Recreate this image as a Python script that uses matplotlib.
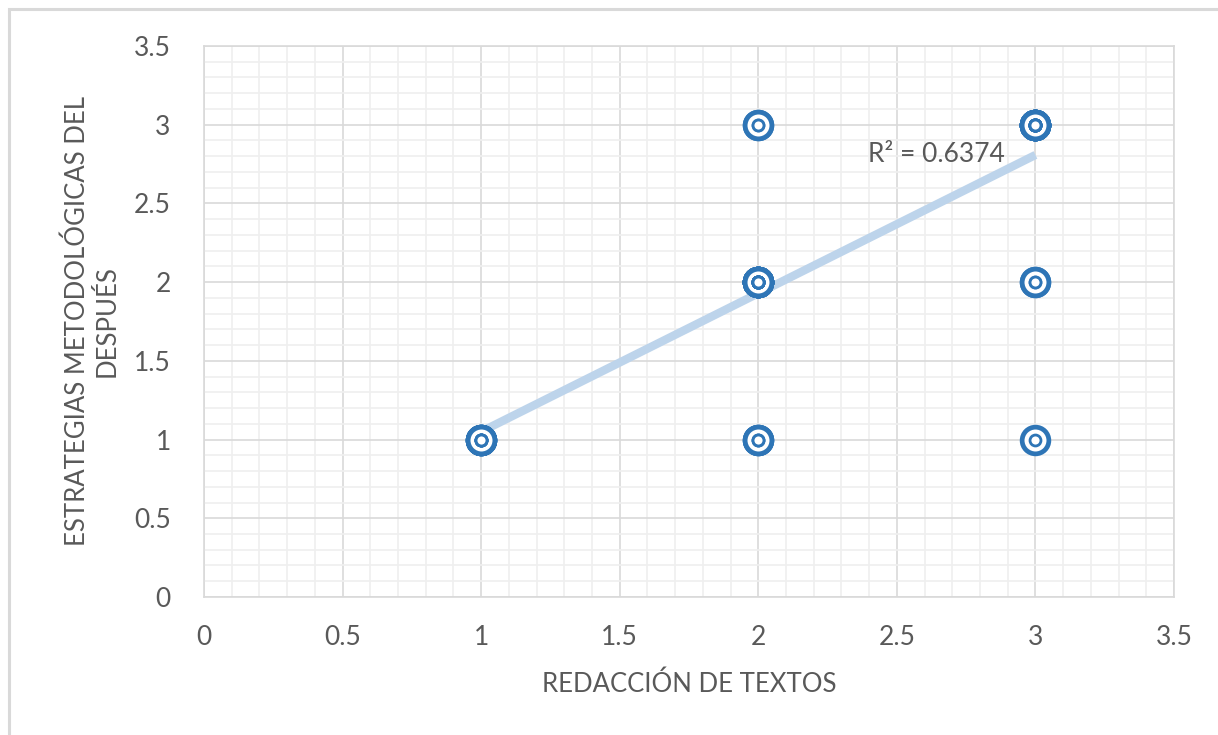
import matplotlib
matplotlib.use("Agg")
import matplotlib.pyplot as plt
import matplotlib.ticker as ticker
from matplotlib.patches import Rectangle
import numpy as np

# -- Data: distinct (x, y) pairs and how many respondents fall on each ----------
x_vals = [1, 2, 2, 2, 3, 3, 3]
y_vals = [1, 1, 2, 3, 1, 2, 3]
counts = [7, 3, 19, 2, 1, 2, 16]

x_label = "REDACCIÓN DE TEXTOS"
y_label = "ESTRATEGIAS METODOLÓGICAS DEL\nDESPUÉS"
ticks = [0, 0.5, 1, 1.5, 2, 2.5, 3, 3.5]

BLUE = "#2e75b6"
TREND = "#bdd4eb"
TEXT = "#595959"

plt.rcParams["font.family"] = ["Lato", "DejaVu Sans"]

xs = np.repeat(x_vals, counts).astype(float)
ys = np.repeat(y_vals, counts).astype(float)
slope, intercept = np.polyfit(xs, ys, 1)
r2 = np.corrcoef(xs, ys)[0, 1] ** 2

fig = plt.figure(figsize=(12.18, 7.35), dpi=100)
ax = fig.add_axes([0.1675, 0.1878, 0.7964, 0.7496])

# outer chart frame (Excel chart area border)
fig.patches.append(Rectangle((9 / 1218, -0.05), 1.2, 1 - 9 / 735 + 0.05,
                             transform=fig.transFigure, fill=False,
                             edgecolor="#d9d9d9", linewidth=2.2))

ax.set_xlim(0, 3.5)
ax.set_ylim(0, 3.5)
ax.xaxis.set_major_locator(ticker.FixedLocator(ticks))
ax.yaxis.set_major_locator(ticker.FixedLocator(ticks))
ax.xaxis.set_minor_locator(ticker.MultipleLocator(0.1))
ax.yaxis.set_minor_locator(ticker.MultipleLocator(0.1))
ax.xaxis.set_major_formatter(ticker.FuncFormatter(lambda v, _: f"{v:g}"))
ax.yaxis.set_major_formatter(ticker.FuncFormatter(lambda v, _: f"{v:g}"))
ax.grid(which="minor", color="#efefef", linewidth=1.2)
ax.grid(which="major", color="#d9d9d9", linewidth=1.2)
ax.set_axisbelow(True)
ax.tick_params(which="both", length=0, labelsize=19, labelcolor=TEXT)
ax.tick_params(axis="x", pad=20)
ax.tick_params(axis="y", pad=24)
for s in ax.spines.values():
    s.set_color("#d9d9d9")
    s.set_linewidth(1.2)

# trendline over data range
xt = np.array([xs.min(), xs.max()])
ax.plot(xt, slope * xt + intercept, color=TREND, linewidth=6,
        solid_capstyle="butt", zorder=2)

# double-ring markers
ax.scatter(xs, ys, s=370, facecolor="white", edgecolor=BLUE, linewidth=3.4, zorder=3)
ax.scatter(xs, ys, s=62, facecolor="white", edgecolor=BLUE, linewidth=2.0, zorder=4)

ax.text(2.89, 2.81, f"R² = {r2:.4f}", ha="right", va="center",
        fontsize=19, color=TEXT, zorder=5)

ax.set_xlabel(x_label, fontsize=18.5, color=TEXT, labelpad=16)
ax.set_ylabel(y_label, fontsize=18.5, color=TEXT, labelpad=10, linespacing=1.25)

fig.savefig("out.png", dpi=100)
